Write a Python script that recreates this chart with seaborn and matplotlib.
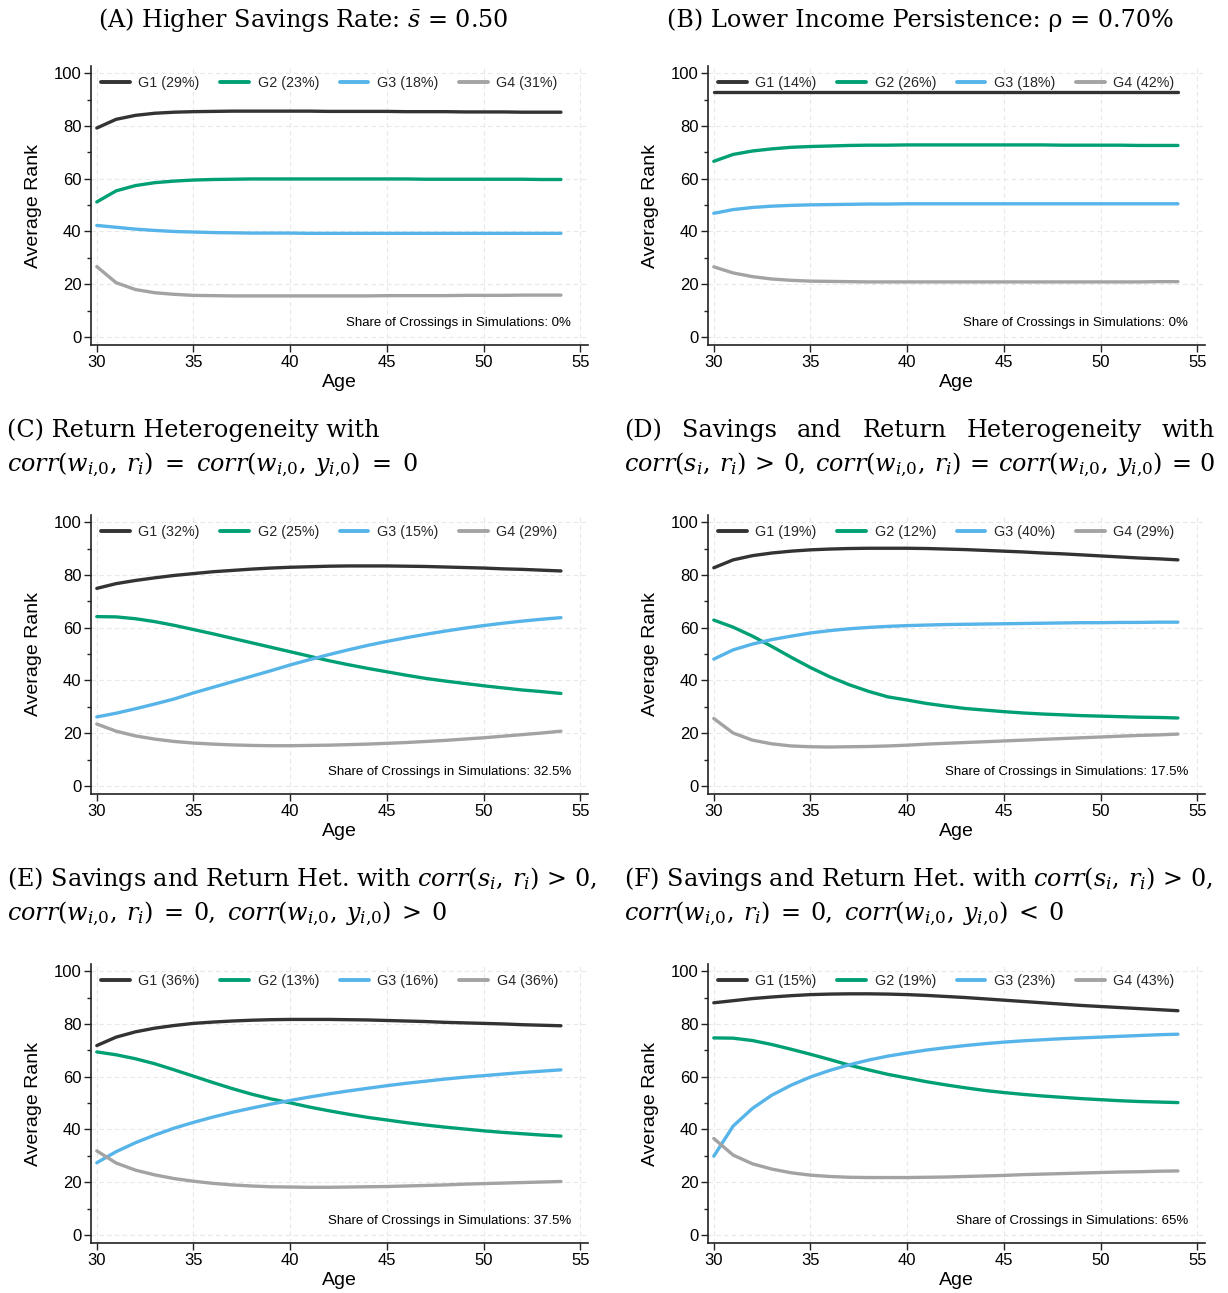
import numpy as np
import pandas as pd
import matplotlib
matplotlib.use("Agg")
import matplotlib.pyplot as plt
import seaborn as sns
from matplotlib.ticker import MultipleLocator

# ---------------------------------------------------------------- data
ages = [30, 31, 32, 33, 34, 35, 36, 37, 38, 39, 40, 41, 42,
        43, 44, 45, 46, 47, 48, 49, 50, 51, 52, 53, 54]

# (A) Higher savings rate
a_shares = [29, 23, 18, 31]
a_g1 = [79.2, 82.5, 84.0, 84.8, 85.2, 85.4, 85.5, 85.6, 85.6, 85.6, 85.6, 85.6, 85.5,
        85.5, 85.5, 85.5, 85.4, 85.4, 85.4, 85.3, 85.3, 85.3, 85.2, 85.2, 85.2]
a_g2 = [51.2, 55.4, 57.4, 58.5, 59.1, 59.5, 59.7, 59.8, 59.9, 59.9, 59.9, 59.9, 59.9,
        59.9, 59.9, 59.9, 59.9, 59.8, 59.8, 59.8, 59.8, 59.8, 59.8, 59.7, 59.7]
a_g3 = [42.3, 41.6, 40.9, 40.4, 40.0, 39.8, 39.6, 39.5, 39.4, 39.4, 39.4, 39.3, 39.3,
        39.3, 39.3, 39.3, 39.3, 39.3, 39.3, 39.3, 39.3, 39.3, 39.3, 39.3, 39.3]
a_g4 = [26.7, 20.6, 18.0, 16.8, 16.2, 15.8, 15.7, 15.6, 15.6, 15.6, 15.6, 15.6, 15.6,
        15.6, 15.6, 15.7, 15.7, 15.7, 15.7, 15.8, 15.8, 15.8, 15.9, 15.9, 15.9]
a_cross = "0%"

# (B) Lower income persistence
b_shares = [14, 26, 18, 42]
b_g1 = [92.9, 92.9, 92.9, 92.9, 92.9, 92.9, 92.9, 92.9, 92.9, 92.9, 92.9, 92.9, 92.9,
        92.9, 92.9, 92.9, 92.9, 92.9, 92.9, 92.9, 92.9, 92.9, 92.9, 92.9, 92.9]
b_g2 = [66.6, 69.2, 70.5, 71.3, 71.9, 72.2, 72.4, 72.6, 72.7, 72.7, 72.8, 72.8, 72.8,
        72.8, 72.8, 72.8, 72.8, 72.8, 72.7, 72.7, 72.7, 72.7, 72.6, 72.6, 72.6]
b_g3 = [46.9, 48.3, 49.1, 49.6, 49.9, 50.1, 50.2, 50.3, 50.4, 50.4, 50.5, 50.5, 50.5,
        50.5, 50.5, 50.5, 50.5, 50.5, 50.5, 50.5, 50.5, 50.5, 50.5, 50.5, 50.5]
b_g4 = [26.6, 24.3, 22.9, 22.0, 21.5, 21.2, 21.1, 21.0, 20.9, 20.9, 20.9, 20.9, 20.9,
        20.9, 20.9, 20.9, 20.9, 20.9, 20.9, 20.9, 20.9, 20.9, 20.9, 21.0, 21.0]
b_cross = "0%"

# (C) Return heterogeneity
c_shares = [32, 25, 15, 29]
c_g1 = [74.9, 76.7, 77.9, 78.9, 79.8, 80.5, 81.2, 81.7, 82.2, 82.6, 82.9, 83.1, 83.3,
        83.4, 83.4, 83.4, 83.3, 83.2, 83.0, 82.8, 82.6, 82.3, 82.1, 81.8, 81.5]
c_g2 = [64.2, 64.1, 63.4, 62.3, 60.9, 59.3, 57.7, 56.0, 54.3, 52.6, 50.9, 49.2, 47.5,
        46.0, 44.6, 43.3, 42.0, 40.8, 39.8, 38.9, 38.0, 37.2, 36.4, 35.8, 35.1]
c_g3 = [26.2, 27.6, 29.3, 31.1, 33.0, 35.3, 37.4, 39.5, 41.6, 43.7, 45.9, 47.9, 49.8,
        51.6, 53.3, 54.8, 56.2, 57.5, 58.7, 59.8, 60.8, 61.7, 62.5, 63.2, 63.8]
c_g4 = [23.5, 20.8, 19.0, 17.8, 16.9, 16.3, 15.9, 15.6, 15.4, 15.3, 15.3, 15.4, 15.5,
        15.7, 15.9, 16.2, 16.5, 16.9, 17.3, 17.8, 18.3, 18.9, 19.5, 20.1, 20.8]
c_cross = "32.5%"

# (D) Savings and return heterogeneity
d_shares = [19, 12, 40, 29]
d_g1 = [82.7, 85.7, 87.3, 88.3, 89.0, 89.5, 89.8, 90.0, 90.1, 90.1, 90.1, 90.0, 89.8,
        89.6, 89.3, 89.0, 88.7, 88.3, 88.0, 87.6, 87.2, 86.8, 86.4, 86.1, 85.7]
d_g2 = [62.9, 60.2, 56.8, 52.9, 48.8, 44.9, 41.4, 38.4, 35.9, 33.8, 32.6, 31.3, 30.3,
        29.4, 28.8, 28.2, 27.7, 27.3, 27.0, 26.7, 26.5, 26.3, 26.1, 26.0, 25.8]
d_g3 = [48.1, 51.6, 53.8, 55.5, 56.8, 58.0, 58.9, 59.6, 60.1, 60.5, 60.8, 61.0, 61.2,
        61.3, 61.4, 61.5, 61.6, 61.7, 61.8, 61.9, 61.9, 62.0, 62.0, 62.1, 62.1]
d_g4 = [25.6, 20.1, 17.4, 16.0, 15.2, 14.9, 14.8, 14.9, 15.0, 15.2, 15.5, 15.9, 16.2,
        16.5, 16.8, 17.1, 17.4, 17.7, 18.0, 18.3, 18.6, 18.9, 19.2, 19.4, 19.7]
d_cross = "17.5%"

# (E) Savings and return het., corr(w, y) > 0
e_shares = [36, 13, 16, 36]
e_g1 = [71.8, 75.0, 77.0, 78.4, 79.4, 80.2, 80.7, 81.1, 81.4, 81.6, 81.7, 81.7, 81.7,
        81.6, 81.5, 81.3, 81.1, 80.9, 80.6, 80.4, 80.2, 80.0, 79.7, 79.5, 79.3]
e_g2 = [69.4, 68.3, 66.8, 64.9, 62.6, 60.2, 57.8, 55.5, 53.4, 51.6, 50.1, 48.5, 47.1,
        45.8, 44.6, 43.6, 42.6, 41.7, 40.9, 40.2, 39.5, 38.9, 38.4, 37.9, 37.5]
e_g3 = [27.4, 31.6, 35.0, 37.9, 40.5, 42.7, 44.7, 46.5, 48.1, 49.6, 51.0, 52.3, 53.5,
        54.6, 55.6, 56.6, 57.5, 58.3, 59.1, 59.8, 60.4, 61.0, 61.6, 62.1, 62.6]
e_g4 = [31.9, 27.3, 24.6, 22.8, 21.4, 20.4, 19.6, 19.0, 18.6, 18.3, 18.2, 18.1, 18.1,
        18.2, 18.3, 18.4, 18.6, 18.8, 19.0, 19.3, 19.5, 19.7, 19.9, 20.1, 20.3]
e_cross = "37.5%"

# (F) Savings and return het., corr(w, y) < 0
f_shares = [15, 19, 23, 43]
f_g1 = [88.0, 88.8, 89.6, 90.2, 90.7, 91.1, 91.3, 91.4, 91.4, 91.3, 91.1, 90.8, 90.4,
        90.0, 89.5, 89.0, 88.5, 88.0, 87.5, 87.0, 86.6, 86.2, 85.8, 85.4, 85.0]
f_g2 = [74.7, 74.6, 73.7, 72.2, 70.4, 68.5, 66.5, 64.4, 62.6, 60.9, 59.5, 58.1, 56.9,
        55.8, 54.8, 54.0, 53.3, 52.7, 52.2, 51.7, 51.3, 50.9, 50.6, 50.4, 50.2]
f_g3 = [29.9, 41.3, 48.0, 53.0, 56.8, 59.9, 62.4, 64.5, 66.3, 67.8, 69.0, 70.1, 71.0,
        71.8, 72.5, 73.1, 73.6, 74.0, 74.4, 74.7, 75.0, 75.3, 75.6, 75.9, 76.1]
f_g4 = [36.6, 30.3, 27.0, 25.0, 23.6, 22.7, 22.2, 21.9, 21.8, 21.8, 21.8, 21.9, 22.0,
        22.2, 22.4, 22.6, 22.9, 23.1, 23.3, 23.5, 23.7, 23.9, 24.0, 24.2, 24.3]
f_cross = "65%"

group_names = ["G1", "G2", "G3", "G4"]
group_colors = ["#333333", "#00A074", "#56B4E9", "#A3A3A3"]

# ---------------------------------------------------------------- style
sns.set_theme(style="white")
plt.rcParams["font.family"] = ["Liberation Sans", "DejaVu Sans"]
plt.rcParams["mathtext.fontset"] = "dejavuserif"

W, H = 1228, 1293
fig = plt.figure(figsize=(W / 100, H / 100), dpi=100)

SERIF = ["DejaVu Serif"]
TITLE_SIZE = 17.2
INK = "#222222"

col_left = [91, 708]
row_bottom = [345, 794, 1243]
ax_w, ax_h = 497, 279


def make_axes(col, row):
    l = col_left[col] / W
    b = 1 - row_bottom[row] / H
    return fig.add_axes([l, b, ax_w / W, ax_h / H])


def draw_panel(ax, shares, series, crossing):
    labels = [f"{g} ({s}%)" for g, s in zip(group_names, shares)]
    df = pd.DataFrame({
        "Age": ages * 4,
        "Rank": np.concatenate([np.asarray(s, dtype=float) for s in series]),
        "Group": np.repeat(labels, len(ages)),
    })
    sns.lineplot(data=df, x="Age", y="Rank", hue="Group", hue_order=labels,
                 palette=group_colors, linewidth=2.4, ax=ax)
    handles, labs = ax.get_legend_handles_labels()
    ax.legend(handles, labs, ncol=4, loc="upper left", bbox_to_anchor=(0.0, 1.0),
              frameon=False, fontsize=10.3, handlelength=2.0, handletextpad=0.6,
              columnspacing=1.45, borderaxespad=0.3)
    for h in ax.get_legend().get_lines():
        h.set_linewidth(2.8)

    ax.set_xlim(29.7, 55.4)
    ax.set_ylim(-3, 102.7)
    ax.set_xticks([30, 35, 40, 45, 50, 55])
    ax.set_yticks([0, 20, 40, 60, 80, 100])
    ax.yaxis.set_minor_locator(MultipleLocator(10))
    ax.grid(True, which="major", linestyle=(0, (4, 3)), color="#e8e8e8", linewidth=0.8)
    ax.set_axisbelow(True)
    for s in ["top", "right"]:
        ax.spines[s].set_visible(False)
    for s in ["left", "bottom"]:
        ax.spines[s].set_color(INK)
        ax.spines[s].set_linewidth(1.2)
    ax.tick_params(axis="both", which="major", direction="out", length=5, width=1,
                   color=INK, labelsize=12, labelcolor="black", left=True, bottom=True,
                   pad=2)
    ax.tick_params(axis="y", which="minor", direction="out", length=3, width=1,
                   color=INK, left=True)
    ax.set_xlabel("Age", fontsize=14, color="black", labelpad=3)
    ax.set_ylabel("Average Rank", fontsize=14, color="black", labelpad=8)
    ax.text(0.966, 0.079, f"Share of Crossings in Simulations: {crossing}",
            transform=ax.transAxes, ha="right", va="center", fontsize=9.5,
            color="black")


panels = [
    (0, 0, a_shares, [a_g1, a_g2, a_g3, a_g4], a_cross),
    (1, 0, b_shares, [b_g1, b_g2, b_g3, b_g4], b_cross),
    (0, 1, c_shares, [c_g1, c_g2, c_g3, c_g4], c_cross),
    (1, 1, d_shares, [d_g1, d_g2, d_g3, d_g4], d_cross),
    (0, 2, e_shares, [e_g1, e_g2, e_g3, e_g4], e_cross),
    (1, 2, f_shares, [f_g1, f_g2, f_g3, f_g4], f_cross),
]
for col, row, shares, series, crossing in panels:
    draw_panel(make_axes(col, row), shares, series, crossing)

# ---------------------------------------------------------------- titles
renderer = fig.canvas.get_renderer()


def title_text(x_px, y_px, s, ha="left"):
    return fig.text(x_px / W, 1 - y_px / H, s, ha=ha, va="baseline",
                    family=SERIF, fontsize=TITLE_SIZE, color="black")


def spread(words, x0_px, x1_px, y_px):
    """Lay out words on one line, stretching the gaps to fill [x0, x1]."""
    texts = [title_text(0, y_px, w) for w in words]
    widths = [t.get_window_extent(renderer).width for t in texts]
    gap = ((x1_px - x0_px) - sum(widths)) / (len(words) - 1)
    x = x0_px
    for t, w in zip(texts, widths):
        t.set_x(x / W)
        x += w + gap


W0 = r"w_{i{,}0}"
Y0 = r"y_{i{,}0}"
CORR_WR = rf"$corr({W0},\: r_i)$"
CORR_WY = rf"$corr({W0},\: {Y0})$"
CORR_SR = r"$corr(s_i,\: r_i)$"

title_text(303, 27, r"(A) Higher Savings Rate: $\bar{s}$ = 0.50", ha="center")
title_text(920, 27, "(B) Lower Income Persistence: ρ = 0.70%", ha="center")

title_text(7, 437, "(C) Return Heterogeneity with")
spread([CORR_WR, "=", CORR_WY, "=", "0"], 7, 418, 471)

spread(["(D)", "Savings", "and", "Return", "Heterogeneity", "with"], 624, 1215, 437)
spread([CORR_SR, ">", "0,", CORR_WR, "=", CORR_WY, "=", "0"], 624, 1215, 471)

title_text(7, 886, rf"(E) Savings and Return Het. with {CORR_SR} > 0,")
spread([CORR_WR, "=", "0,", CORR_WY, ">", "0"], 7, 447, 920)
title_text(624, 886, rf"(F) Savings and Return Het. with {CORR_SR} > 0,")
spread([CORR_WR, "=", "0,", CORR_WY, "<", "0"], 624, 1064, 920)

fig.savefig("out.png", dpi=100, facecolor="white")
